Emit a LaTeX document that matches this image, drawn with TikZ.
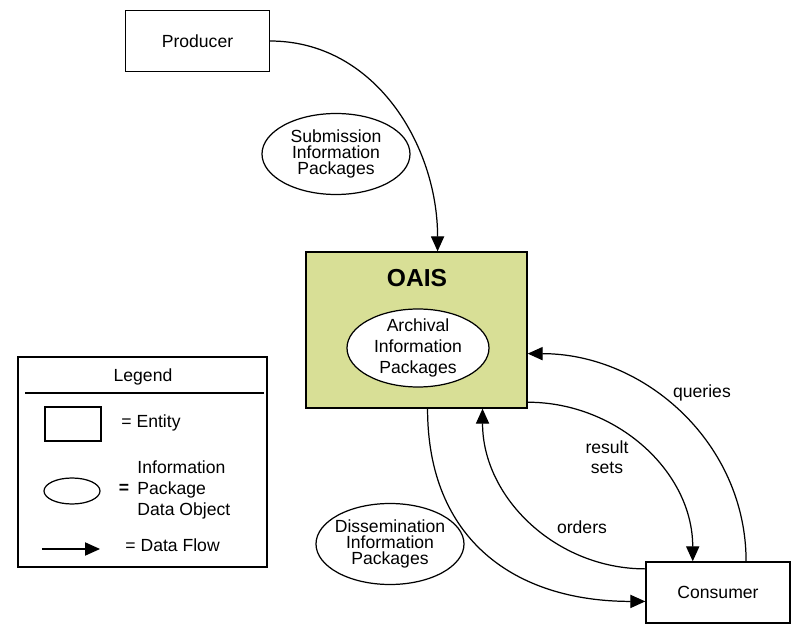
\documentclass[tikz,border=0pt]{standalone}
\usepackage{fontspec}
\setmainfont{Liberation Sans}
\usetikzlibrary{arrows.meta,shapes.geometric}
\definecolor{oaisgreen}{RGB}{216,223,150}

\begin{document}
\begin{tikzpicture}[
            every node/.style={
              font=\fontsize{10pt}{12pt}\selectfont,
            },
            entity/.style={
              draw,
              line width=0.8pt,
              minimum width=2.87cm,
              minimum height=1.23cm,
            },
            package/.style={
              draw,
              ellipse,
              line width=0.7pt,
              fill=white,
              inner xsep=-4pt,
              inner ysep=-3pt,
              align=center,
              minimum width=2.96cm,
              minimum height=1.62cm,
            },
            legendtext/.style={
              anchor=west,
              align=left,
            },
            line width=0.7pt,
            >={Triangle[length=8.5pt,width=7.5pt]},
          ]
          \useasboundingbox (0,0) rectangle (15.92,-12.5) ;
          \node[entity] at (3.95,-0.82) (producer) {Producer} ;
          \node[package,font=\fontsize{10pt}{9pt}\selectfont] at (6.72,-3.08) (sip) {Submission\\Information\\Packages} ;
          \node[draw,line width=0.8pt,fill=oaisgreen,minimum width=4.42cm,minimum height=3.12cm] at (8.33,-6.60) (oais) {} ;
          \node[font=\fontsize{14pt}{16pt}\selectfont\bfseries] at (8.34,-5.56) (oaistitle) {OAIS} ;
          \node[package,minimum width=2.84cm,minimum height=1.56cm] at (8.36,-6.96) (aip) {Archival\\Information\\Packages} ;
          \node[package,font=\fontsize{10pt}{9pt}\selectfont] at (7.80,-10.88) (dip) {Dissemination\\Information\\Packages} ;
          \node[entity,minimum width=2.88cm,minimum height=1.22cm] at (14.36,-11.85) (consumer) {Consumer} ;
          \node at (14.04,-7.86) (queries) {queries} ;
          \node[align=center,font=\fontsize{10pt}{11.4pt}\selectfont] at (12.14,-9.14) (results) {result\\sets} ;
          \node at (11.64,-10.54) (orders) {orders} ;
          \draw[->] (producer.east) to[out=0,in=90] (oais.75) ;
          \draw[->] (oais.-82) to[out=-90,in=180,looseness=1.15] (consumer.187) ;
          \draw[->] (consumer.162) to[out=180,in=-90] (oais.-50) ;
          \draw[->] (oais.-33) to[out=0,in=90] (consumer.129) ;
          \draw[->] (consumer.48) to[out=90,in=0] (oais.-12) ;
          \node[draw,line width=0.8pt,minimum width=4.98cm,minimum height=4.20cm] at (2.85,-9.24) (legend) {} ;
          \node at (2.86,-7.54) (legendtitle) {Legend} ;
          \draw (0.50,-7.86) -- (5.28,-7.86) ;
          \node[draw,line width=0.8pt,minimum width=1.12cm,minimum height=0.68cm] at (1.46,-8.48) (keyentity) {} ;
          \node[legendtext] at (2.30,-8.46) (keyentitytext) {= Entity} ;
          \node[draw,ellipse,line width=0.7pt,inner sep=0pt,minimum width=1.12cm,minimum height=0.52cm] at (1.44,-9.82) (keypackage) {} ;
          \node[font=\bfseries] at (2.48,-9.78) (keyequals) {=} ;
          \node[legendtext,font=\fontsize{10pt}{12.2pt}\selectfont] at (2.62,-9.80) (keypackagetext) {Information\\Package\\Data Object} ;
          \coordinate (flowstart) at (0.84,-10.98) ;
          \coordinate (flowend) at (2.00,-10.98) ;
          \draw[->] (flowstart)--(flowend) ;
          \node[legendtext] at (2.38,-10.90) (keyflowtext) {= Data Flow} ;
          \end{tikzpicture}
\end{document}
